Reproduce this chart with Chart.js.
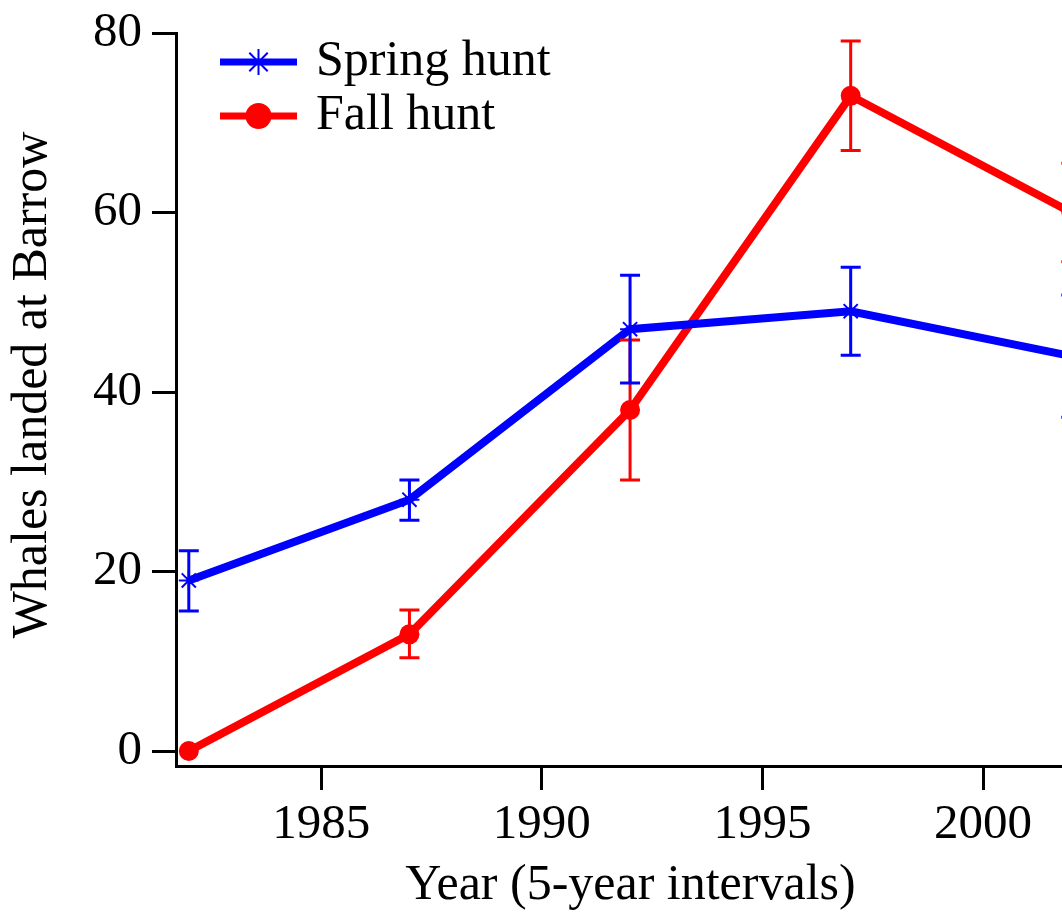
<!DOCTYPE html>
<html>
<head>
<meta charset="utf-8">
<title>Whales landed at Barrow</title>
<script src="https://cdn.jsdelivr.net/npm/chart.js@4.4.1/dist/chart.umd.min.js"></script>
<style>
    html, body { margin: 0; padding: 0; background: #fff; overflow: hidden; }
    #wrap { width: 1062px; height: 913px; overflow: hidden; }
    canvas { display: block; }
</style>
</head>
<body>
<div id="wrap"><canvas id="whalesChart" width="1097" height="913"></canvas></div>
<script>
// Datos (5-year intervals)
const years = [1982, 1987, 1992, 1997, 2002];

const springHunt = [19, 28, 47, 49, 44];
const springLow  = [15.6, 25.7, 41, 44.1, 37.2];
const springHigh = [22.3, 30.2, 53, 53.9, 50.8];

const fallHunt = [0, 13, 38, 73, 60];
const fallLow  = [0, 10.4, 30.2, 66.9, 54.5];
const fallHigh = [0, 15.7, 45.8, 79.1, 65.5];

const xTicks = [1985, 1990, 1995, 2000];
const yTicks = [0, 20, 40, 60, 80];

const yTitle = 'Whales landed at Barrow';
const xTitle = 'Year (5-year intervals)';

const FONT = "'Liberation Serif', 'Times New Roman', serif";
const BLUE = '#0000ff';
const RED = '#ff0000';

// Barras de error dibujadas con las escalas del grafico
const errorBarPlugin = {
    id: 'errorBars',
    afterDatasetsDraw(chart) {
        const { ctx } = chart;
        const xScale = chart.scales.x;
        const yScale = chart.scales.y;
        const capHalf = 10;
        for (let i = chart.data.datasets.length - 1; i >= 0; i--) {
            const ds = chart.data.datasets[i];
            if (!chart.isDatasetVisible(i) || !ds.errLow) continue;
            ctx.save();
            ctx.strokeStyle = ds.borderColor;
            ctx.lineWidth = 3;
            ds.errLow.forEach((lo, j) => {
                const hi = ds.errHigh[j];
                if (hi === lo) return;
                const px = xScale.getPixelForValue(years[j]);
                const yLo = yScale.getPixelForValue(lo);
                const yHi = yScale.getPixelForValue(hi);
                ctx.beginPath();
                ctx.moveTo(px, yLo);
                ctx.lineTo(px, yHi);
                ctx.moveTo(px - capHalf, yLo);
                ctx.lineTo(px + capHalf, yLo);
                ctx.moveTo(px - capHalf, yHi);
                ctx.lineTo(px + capHalf, yHi);
                ctx.stroke();
            });
            ctx.restore();
        }
    }
};

// Leyenda con linea + marcador, arriba a la izquierda
const lineLegendPlugin = {
    id: 'lineLegend',
    afterDraw(chart) {
        const { ctx } = chart;
        const x0 = 220, x1 = 297, textX = 316;
        chart.data.datasets.forEach((ds, i) => {
            const yy = 62 + i * 54;
            ctx.save();
            ctx.strokeStyle = ds.borderColor;
            ctx.lineWidth = 7;
            ctx.beginPath();
            ctx.moveTo(x0, yy);
            ctx.lineTo(x1, yy);
            ctx.stroke();
            // marcador
            ctx.lineWidth = 2;
            ctx.fillStyle = ds.borderColor;
            Chart.helpers.drawPoint(ctx, {
                pointStyle: ds.pointStyle,
                radius: 13,
                borderWidth: ds.pointStyle === 'circle' ? 0 : 2,
                rotation: 0
            }, (x0 + x1) / 2, yy);
            ctx.fillStyle = '#000';
            ctx.font = '50px ' + FONT;
            ctx.textBaseline = 'alphabetic';
            ctx.textAlign = 'left';
            ctx.fillText(ds.label, textX, yy + 13);
            ctx.restore();
        });
    }
};

// Titulo del eje Y (girado), centrado como en la figura original
const yTitlePlugin = {
    id: 'yTitle',
    afterDraw(chart) {
        const { ctx } = chart;
        ctx.save();
        ctx.translate(33, 385);
        ctx.rotate(-Math.PI / 2);
        ctx.fillStyle = '#000';
        ctx.font = '50px ' + FONT;
        ctx.textAlign = 'center';
        ctx.textBaseline = 'middle';
        ctx.fillText(yTitle, 0, 0);
        ctx.restore();
    }
};

const ctx = document.getElementById('whalesChart').getContext('2d');
new Chart(ctx, {
    type: 'line',
    data: {
        datasets: [
            {
                label: 'Spring hunt',
                data: years.map((yr, i) => ({ x: yr, y: springHunt[i] })),
                errLow: springLow,
                errHigh: springHigh,
                borderColor: BLUE,
                backgroundColor: BLUE,
                borderWidth: 8,
                pointStyle: 'star',
                pointRadius: 10,
                pointBorderWidth: 2,
                pointBorderColor: BLUE,
                tension: 0
            },
            {
                label: 'Fall hunt',
                data: years.map((yr, i) => ({ x: yr, y: fallHunt[i] })),
                errLow: fallLow,
                errHigh: fallHigh,
                borderColor: RED,
                backgroundColor: RED,
                borderWidth: 8,
                pointStyle: 'circle',
                pointRadius: 10,
                pointBorderWidth: 0,
                pointBackgroundColor: RED,
                tension: 0
            }
        ]
    },
    options: {
        responsive: false,
        animation: false,
        devicePixelRatio: 1,
        layout: { padding: { top: 33, right: 0, bottom: 0, left: 0 } },
        plugins: {
            legend: { display: false },
            tooltip: { enabled: false }
        },
        scales: {
            x: {
                type: 'linear',
                min: 1981.71,
                max: 2002.31,
                afterBuildTicks: (scale) => { scale.ticks = xTicks.map(v => ({ value: v })); },
                afterFit: (scale) => {
                    scale.height = 147;
                    scale.paddingLeft = 0;
                    scale.paddingRight = 0;
                },
                ticks: {
                    color: '#000',
                    padding: 11,
                    font: { family: FONT, size: 49, lineHeight: 1 },
                    maxRotation: 0,
                    callback: (v) => String(v)
                },
                grid: {
                    drawOnChartArea: false,
                    drawTicks: true,
                    tickLength: 24,
                    tickWidth: 3,
                    tickColor: '#000'
                },
                border: { display: true, color: '#000', width: 3 },
                title: {
                    display: true,
                    text: xTitle,
                    color: '#000',
                    font: { family: FONT, size: 50, lineHeight: 1.1 },
                    padding: { top: 0, bottom: 0 }
                }
            },
            y: {
                type: 'linear',
                min: -1.67,
                max: 80,
                afterBuildTicks: (scale) => { scale.ticks = yTicks.map(v => ({ value: v })); },
                afterFit: (scale) => {
                    scale.width = 176;
                    scale.paddingTop = 0;
                    scale.paddingBottom = 0;
                },
                ticks: {
                    color: '#000',
                    padding: 10,
                    font: { family: FONT, size: 49, lineHeight: 1 }
                },
                grid: {
                    drawOnChartArea: false,
                    drawTicks: true,
                    tickLength: 24,
                    tickWidth: 3,
                    tickColor: '#000'
                },
                border: { display: true, color: '#000', width: 3 },
                title: { display: false }
            }
        }
    },
    plugins: [errorBarPlugin, lineLegendPlugin, yTitlePlugin]
});
</script>
</body>
</html>
